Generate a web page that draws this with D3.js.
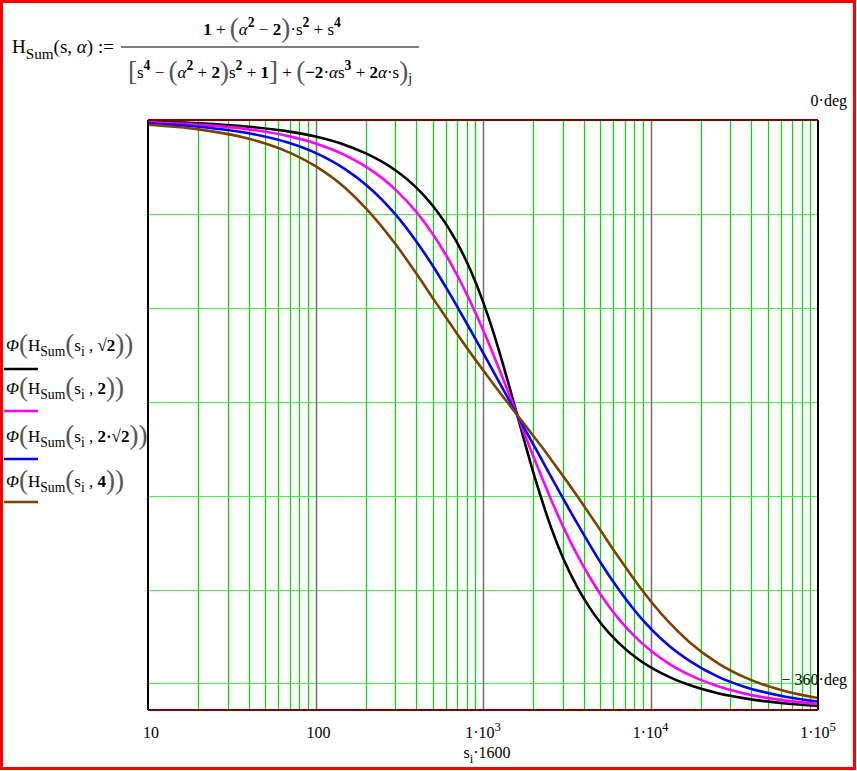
<!DOCTYPE html>
<html>
<head>
<meta charset="utf-8">
<script src="https://cdn.jsdelivr.net/npm/d3@7"></script>
<style>
  body { margin: 0; background: #fff; }
  svg text { font-family: "Liberation Serif", "DejaVu Serif", serif; fill: #000; }
</style>
</head>
<body>
<script>
var freq = [10, 20, 40, 70, 100, 150, 200, 300, 400, 500, 600, 700, 850, 1000, 1150, 1300,
            1600, 1970, 2230, 2560, 3010, 3660, 4270, 5120, 6400, 8530, 12800, 17100, 25600, 36600, 64000, 100000];

var phaseSqrt2 = [-1.0, -2.0, -4.1, -7.1, -10.1, -15.2, -20.4, -30.7, -41.3, -52.2, -63.4, -74.8, -92.6, -110.8, -129.1, -147.1,
                  -180, -213.0, -230.9, -249.2, -267.4, -285.2, -296.6, -307.8, -318.7, -329.3, -339.6, -344.8, -349.9, -352.9, -356.0, -357.4];
var phase2 = [-1.4, -2.9, -5.7, -10.0, -14.3, -21.4, -28.5, -42.5, -56.1, -69.4, -82.2, -94.5, -111.9, -128.0, -142.8, -156.4,
              -180, -203.6, -217.2, -232.0, -248.1, -265.5, -277.8, -290.6, -303.9, -317.5, -331.5, -338.6, -345.7, -350.0, -354.3, -356.3];
var phase2Sqrt2 = [-2.0, -4.1, -8.1, -14.1, -20.1, -30.0, -39.5, -57.6, -74.1, -88.8, -102.0, -113.7, -128.9, -142.0, -153.2, -163.2,
                   -180, -196.8, -206.8, -218.0, -231.1, -246.3, -258.0, -271.2, -285.9, -302.4, -320.5, -330.0, -339.9, -345.9, -351.9, -354.8];
var phase4 = [-2.9, -5.7, -11.4, -19.9, -28.2, -41.4, -53.9, -75.7, -93.7, -108.4, -120.4, -130.4, -142.7, -152.6, -160.9, -168.1,
              -180, -191.9, -199.1, -207.4, -217.3, -229.6, -239.6, -251.6, -266.3, -284.3, -306.1, -318.6, -331.8, -340.1, -348.6, -352.7];

var seriesArgs = ['√2', '2', '2·√2', '4'];
var seriesColors = ['#000000', '#ff00ff', '#0000ff', '#804000'];

var xTicks = [10, 100, 1000, 10000, 100000];
var xTickBase = ['10', '100', '1·10', '1·10', '1·10'];
var xTickExp = ['', '', '3', '4', '5'];
var yLimits = [0, -360];

var width = 857, height = 771;
// plot box (note: "top" is taken by window.top, so prefixed names)
var plotLeft = 148, plotRight = 818, plotTop = 120, plotBottom = 710;

var svg = d3.select('body').append('svg')
	.attr('width', width)
	.attr('height', height);

var x = d3.scaleLog().domain([10, 100000]).range([plotLeft, plotRight]);
var y = d3.scaleLinear().domain(yLimits).range([plotTop, plotBottom]);

// Write a run of text pieces as tspans. Each piece: [text, 'flag flag']
// flags: i = italic, b = bold, sup, sub, big (large bracket)
function rich(sel, px, py, pieces, size, anchor) {
	var t = sel.append('text')
		.attr('x', px)
		.attr('y', py)
		.attr('text-anchor', anchor || 'start')
		.style('font-size', size + 'px');
	var shift = 0;
	pieces.forEach(function(p) {
		var f = (p[1] || '').split(' ');
		var has = function(k) { return f.indexOf(k) >= 0; };
		var want = 0, fs = size;
		if (has('sup')) { want = -Math.round(size * 0.45); fs = size * 0.8; }
		if (has('sub')) { want = Math.round(size * 0.3); fs = size * 0.8; }
		if (has('big')) { want = Math.round(size * 0.12); fs = size * 1.6; }
		var ts = t.append('tspan')
			.attr('dy', want - shift)
			.style('font-size', fs + 'px')
			.text(p[0]);
		if (has('i')) ts.style('font-style', 'italic');
		if (has('b')) ts.style('font-weight', 'bold');
		if (has('big')) ts.style('fill', '#555').style('font-weight', '300');
		shift = want;
	});
	return t;
}

// formula at top
rich(svg, 12, 53, [['H'], ['Sum', 'sub'], ['(s, '], ['α', 'i'], [')  :=']], 19);

rich(svg, 272, 35, [
	['1', 'b'], [' + '], ['(', 'big'], ['α', 'i'], ['2', 'sup b'], [' − '], ['2', 'b'], [')', 'big'],
	['·s'], ['2', 'sup b'], [' + s'], ['4', 'sup b']
], 17, 'middle');

svg.append('line')
	.attr('x1', 121).attr('x2', 419)
	.attr('y1', 47).attr('y2', 47)
	.attr('stroke', '#000').attr('stroke-width', 1);

rich(svg, 270, 78, [
	['[', 'big'], ['s'], ['4', 'sup b'], [' − '], ['(', 'big'], ['α', 'i'], ['2', 'sup b'], [' + '], ['2', 'b'], [')', 'big'],
	['s'], ['2', 'sup b'], [' + '], ['1', 'b'], [']', 'big'], [' + '], ['(', 'big'], ['−2', 'b'], ['·'], ['α', 'i'], ['s'],
	['3', 'sup b'], [' + '], ['2', 'b'], ['α', 'i'], ['·s'], [')', 'big'], ['j', 'sub']
], 17, 'middle');

// grid
var g = svg.append('g');

var minor = [];
for (var d = 10; d < 100000; d *= 10) {
	for (var k = 2; k <= 9; k++) minor.push(d * k);
}
g.selectAll('line.minor').data(minor).enter().append('line')
	.attr('class', 'minor')
	.attr('x1', function(v) { return Math.round(x(v)) + 0.5; })
	.attr('x2', function(v) { return Math.round(x(v)) + 0.5; })
	.attr('y1', plotTop).attr('y2', plotBottom)
	.attr('stroke', '#00e000').attr('stroke-width', 1.2);

// horizontal grid falls every radian (Mathcad keeps the angle in rad)
var hgrid = d3.range(1, 7).map(function(r) { return -r * 180 / Math.PI; });
g.selectAll('line.hgrid').data(hgrid).enter().append('line')
	.attr('class', 'hgrid')
	.attr('x1', plotLeft).attr('x2', plotRight)
	.attr('y1', function(v) { return Math.round(y(v)) + 0.5; })
	.attr('y2', function(v) { return Math.round(y(v)) + 0.5; })
	.attr('stroke', '#44ee44').attr('stroke-width', 1.2);

g.selectAll('line.major').data([100, 1000, 10000]).enter().append('line')
	.attr('class', 'major')
	.attr('x1', function(v) { return Math.round(x(v)) + 0.5; })
	.attr('x2', function(v) { return Math.round(x(v)) + 0.5; })
	.attr('y1', plotTop).attr('y2', plotBottom)
	.attr('stroke', '#707070').attr('stroke-width', 1.5);

// curves
svg.append('clipPath').attr('id', 'plotclip')
	.append('rect').attr('x', plotLeft).attr('y', plotTop - 2)
	.attr('width', plotRight - plotLeft).attr('height', plotBottom - plotTop + 2);

var line = d3.line()
	.x(function(d) { return x(d[0]); })
	.y(function(d) { return y(d[1]); })
	.curve(d3.curveMonotoneX);

[phaseSqrt2, phase2, phase2Sqrt2, phase4].forEach(function(vals, i) {
	svg.append('path')
		.attr('clip-path', 'url(#plotclip)')
		.attr('d', line(d3.zip(freq, vals)))
		.attr('fill', 'none')
		.attr('stroke', seriesColors[i])
		.attr('stroke-width', 2.6);
});

// frame
var frame = svg.append('g').attr('shape-rendering', 'crispEdges');
frame.append('line').attr('x1', plotLeft).attr('x2', plotLeft).attr('y1', plotTop).attr('y2', plotBottom)
	.attr('stroke', '#000').attr('stroke-width', 1.5);
frame.append('line').attr('x1', plotRight).attr('x2', plotRight).attr('y1', plotTop).attr('y2', plotBottom)
	.attr('stroke', '#000').attr('stroke-width', 1.5);
frame.append('line').attr('x1', plotLeft).attr('x2', plotRight).attr('y1', plotTop).attr('y2', plotTop)
	.attr('stroke', '#800000').attr('stroke-width', 1.5);
frame.append('line').attr('x1', plotLeft).attr('x2', plotRight).attr('y1', plotBottom).attr('y2', plotBottom)
	.attr('stroke', '#800000').attr('stroke-width', 1.5);

// x tick labels
xTicks.forEach(function(v, i) {
	var pieces = [[xTickBase[i]]];
	if (xTickExp[i]) pieces.push([xTickExp[i], 'sup']);
	var dx = xTickExp[i] ? 0 : 3;
	rich(svg, x(v) + dx, 738, pieces, 16, 'middle');
});

rich(svg, 487, 758, [['s'], ['i', 'sub'], ['·1600']], 16, 'middle');

// y limits on the right
rich(svg, 847, 106, [['0·deg']], 16, 'end');
rich(svg, 847, 685, [['− 360·deg']], 16, 'end');

// legend
var legendBase = [351, 394, 442, 487];
var legendLine = [369, 411, 459, 502];
seriesArgs.forEach(function(a, i) {
	var pieces = [['Φ', 'i'], ['(', 'big'], ['H'], ['Sum', 'sub'], ['(', 'big'], ['s'], ['i', 'sub'], [' , '],
		[a, 'b'], [')', 'big'], [')', 'big']];
	rich(svg, 6, legendBase[i], pieces, 17);
	svg.append('line')
		.attr('x1', 4).attr('x2', 38)
		.attr('y1', legendLine[i]).attr('y2', legendLine[i])
		.attr('stroke', seriesColors[i]).attr('stroke-width', 2.6);
});

// outer red border
svg.append('rect')
	.attr('x', 1.5).attr('y', 1.5)
	.attr('width', width - 4).attr('height', height - 4)
	.attr('fill', 'none')
	.attr('stroke', '#ff0000').attr('stroke-width', 3);
</script>
</body>
</html>
